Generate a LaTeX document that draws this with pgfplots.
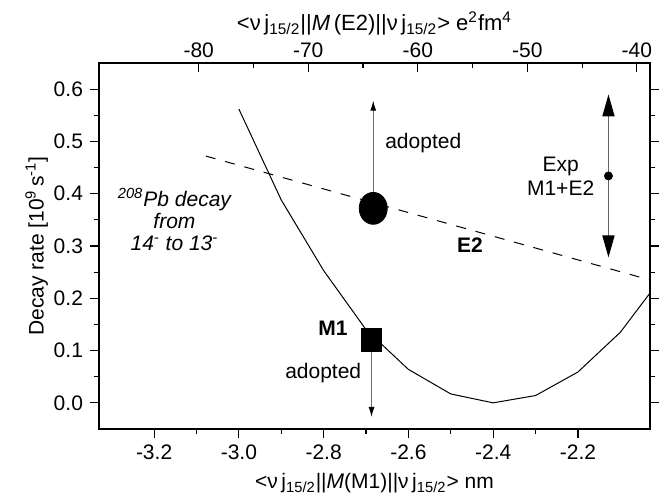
\documentclass[border=0pt]{standalone}
\usepackage{fontspec}
\setmainfont{Liberation Sans}
\usepackage{pgfplots}
\pgfplotsset{compat=1.18}
\usetikzlibrary{arrows.meta,calc}

\newcommand{\nuj}{ν\,j\textsubscript{15/2}}

\begin{document}
\begin{tikzpicture}
\pgfplotsset{
  frame/.style={
    scale only axis, width=275.5pt, height=183pt,
    font=\fontsize{10.5}{12}\selectfont,
    tick label style={font=\fontsize{10.5}{12}\selectfont},
    label style={font=\fontsize{10.5}{12}\selectfont},
    /pgf/number format/assume math mode=true,
    major tick length=4.5pt, minor tick length=2.5pt,
    axis line style={line width=0.6pt},
    every tick/.style={black, line width=0.6pt},
  }
}

% M1 axis (bottom) and decay rate
\begin{axis}[frame, name=ax,
    xmin=-3.33, xmax=-2.03, ymin=-0.05, ymax=0.65,
    tick align=outside,
    xtick pos=bottom,
    xtick={-3.2,-3.0,-2.8,-2.6,-2.4,-2.2},
    ytick={0,0.1,0.2,0.3,0.4,0.5,0.6},
    minor x tick num=1, minor y tick num=1,
    xticklabel style={/pgf/number format/.cd, fixed, fixed zerofill, precision=1},
    yticklabel style={/pgf/number format/.cd, fixed, fixed zerofill, precision=1},
    xlabel={<\nuj||\textit{M}(M1)||\nuj> nm},
    ylabel={Decay rate [10\textsuperscript{9}\,s\textsuperscript{-1}]},
    ylabel shift=-4pt,
]
% calculated decay rate vs M1 matrix element
\addplot[black, line width=0.5pt] coordinates {
  (-3.0,0.562) (-2.9,0.388) (-2.8,0.253) (-2.7,0.140) (-2.6,0.064)
  (-2.5,0.017) (-2.4,0.0) (-2.3,0.014) (-2.2,0.059) (-2.1,0.135) (-2.03,0.21)
};
% E2 contribution
\addplot[black, line width=0.5pt, dash pattern=on 5pt off 5pt] coordinates {
  (-3.078,0.472) (-2.03,0.235)
};

% adopted arrows
\addplot[gray!85!black, line width=0.5pt, -{Latex[black,length=5pt,width=3pt]}] coordinates {
  (-2.683,0.40) (-2.683,0.578)
};
\addplot[gray!85!black, line width=0.5pt, -{Latex[black,length=5pt,width=3pt]}] coordinates {
  (-2.687,0.098) (-2.687,-0.027)
};
% experimental value
\addplot[gray!80!black, line width=0.8pt,
  {Triangle[black,length=11pt,width=6pt]}-{Triangle[black,length=11pt,width=6pt]}] coordinates {
  (-2.128,0.278) (-2.128,0.59)
};
\addplot[only marks, mark=*, mark size=2pt, black] coordinates {(-2.128,0.434)};

% adopted points
\addplot[only marks, mark=*, mark size=7pt, black, mark options={yscale=1.14}] coordinates {(-2.683,0.372)};
\addplot[only marks, mark=square*, mark size=5pt, black, mark options={yscale=1.15}] coordinates {(-2.687,0.120)};

\node[font=\fontsize{10.5}{12}\selectfont] at (axis cs:-2.565,0.497) {adopted};
\node[font=\fontsize{10.5}{12}\selectfont] at (axis cs:-2.801,0.057) {adopted};
\node[font=\fontsize{10.5}{12}\selectfont\bfseries] at (axis cs:-2.778,0.142) {M1};
\node[font=\fontsize{10.5}{12}\selectfont\bfseries] at (axis cs:-2.455,0.301) {E2};
\node[font=\fontsize{10.5}{12}\selectfont, align=center, anchor=east] at (axis cs:-2.145,0.434) {Exp\\M1+E2};
\node[font=\fontsize{10.5}{11}\selectfont\itshape, align=center] at (axis cs:-3.152,0.35)
  {\textsuperscript{208}Pb decay\\from\\14\textsuperscript{-} to 13\textsuperscript{-}};
\end{axis}

% E2 axis (top)
\begin{axis}[frame,
    xmin=-89.1, xmax=-38.8, ymin=0, ymax=1,
    axis x line*=top, axis y line=none, axis line style={-},
    tick align=inside,
    xtick={-80,-70,-60,-50,-40}, minor x tick num=1,
    xticklabel style={yshift=-1pt},
    xlabel={<\nuj||\textit{M}\,(E2)||\nuj> e\textsuperscript{2}fm\textsuperscript{4}},
    xlabel style={font=\fontsize{11}{12}\selectfont, yshift=-3pt},
]
\end{axis}

\pgfresetboundingbox
\path ($(ax.south west)+(-49.5pt,-35pt)$) rectangle ($(ax.north east)+(10.5pt,31.5pt)$);
\end{tikzpicture}
\end{document}
